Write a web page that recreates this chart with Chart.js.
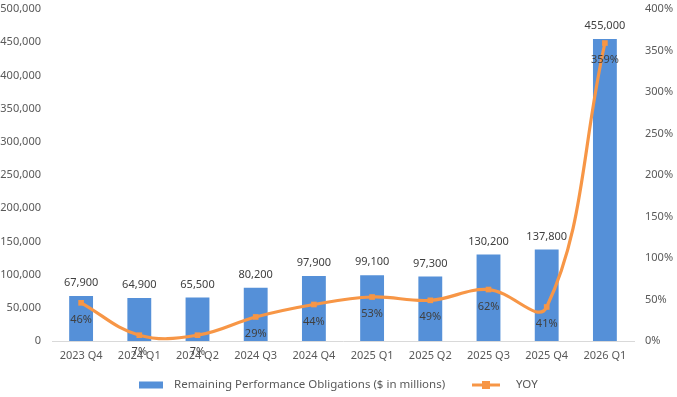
<!DOCTYPE html>
<html><head><meta charset="utf-8">
<script src="https://cdn.jsdelivr.net/npm/chart.js@4/dist/chart.umd.min.js"></script>
<style>html,body{margin:0;padding:0;background:#fff}#wrap{width:677px;height:397px}</style>
</head><body><div id="wrap"><canvas id="c" width="677" height="397"></canvas></div>
<script>
const categories = ["2023 Q4","2024 Q1","2024 Q2","2024 Q3","2024 Q4","2025 Q1","2025 Q2","2025 Q3","2025 Q4","2026 Q1"];
const rpoValues = [67900, 64900, 65500, 80200, 97900, 99100, 97300, 130200, 137800, 455000];
const yoyValues = [46, 7, 7, 29, 44, 53, 49, 62, 41, 359];
const leftTicks = {min: 0, max: 500000, step: 50000};
const rightTicks = {min: 0, max: 400, step: 50};
const seriesNames = ["Remaining Performance Obligations ($ in millions)", "YOY"];

const FONT = "'Noto Sans', 'Open Sans', sans-serif";
const TXT = '#595959';
const BLUE = '#5590D8';
const ORANGE = '#F79646';

const labelPlugin = {
  id: 'labels',
  afterDatasetsDraw(chart) {
    const ctx = chart.ctx;
    ctx.save();
    ctx.font = '11px ' + FONT;
    ctx.fillStyle = '#404040';
    ctx.textAlign = 'center';
    ctx.textBaseline = 'middle';
    chart.getDatasetMeta(1).data.forEach((el, i) => {
      ctx.fillText(rpoValues[i].toLocaleString('en-US'), el.x, el.y - 13);
    });
    chart.getDatasetMeta(0).data.forEach((el, i) => {
      ctx.fillText(yoyValues[i] + '%', el.x, el.y + 17);
    });
    ctx.restore();
  },
  afterDraw(chart) {
    const ctx = chart.ctx;
    ctx.save();
    const y = 385;
    ctx.fillStyle = BLUE;
    ctx.fillRect(139, y - 3.5, 24, 7);
    ctx.font = '11.5px ' + FONT;
    ctx.fillStyle = TXT;
    ctx.textBaseline = 'middle';
    ctx.textAlign = 'left';
    ctx.fillText(seriesNames[0], 174, y);
    ctx.strokeStyle = ORANGE;
    ctx.lineWidth = 3;
    ctx.beginPath(); ctx.moveTo(472, y); ctx.lineTo(500, y); ctx.stroke();
    ctx.fillStyle = ORANGE;
    ctx.fillRect(482, y - 4, 8, 8);
    ctx.fillStyle = TXT;
    ctx.fillText(seriesNames[1], 516, y);
    ctx.restore();
  }
};

function zeroPad(s) { s.paddingTop = 0; s.paddingBottom = 0; s.paddingLeft = 0; s.paddingRight = 0; }

new Chart(document.getElementById('c'), {
  data: {
    labels: categories,
    datasets: [
      {type: 'line', label: seriesNames[1], data: yoyValues, yAxisID: 'y1',
       borderColor: ORANGE, backgroundColor: ORANGE, borderWidth: 3.2,
       pointStyle: 'rect', pointRadius: 4, pointBackgroundColor: ORANGE, pointBorderWidth: 0,
       tension: 0.4, order: 0},
      {type: 'bar', label: seriesNames[0], data: rpoValues, yAxisID: 'y',
       backgroundColor: BLUE, barPercentage: 0.41, categoryPercentage: 1, order: 1}
    ]
  },
  options: {
    responsive: false, animation: false,
    layout: {padding: {top: 9, bottom: 30, left: 0, right: 0}},
    plugins: {legend: {display: false}, tooltip: {enabled: false}},
    scales: {
      x: {
        grid: {display: false, drawTicks: false},
        border: {color: '#D9D9D9', width: 1},
        ticks: {color: TXT, font: {family: FONT, size: 11}, padding: 8, maxRotation: 0, autoSkip: false},
        afterFit(s) { zeroPad(s); s.height = 26; }
      },
      y: {
        position: 'left', min: leftTicks.min, max: leftTicks.max,
        grid: {display: false, drawTicks: false}, border: {display: false},
        ticks: {stepSize: leftTicks.step, color: TXT, font: {family: FONT, size: 11}, padding: 11,
                callback: v => v.toLocaleString('en-US')},
        afterFit(s) { zeroPad(s); s.width = 52; }
      },
      y1: {
        position: 'right', min: rightTicks.min, max: rightTicks.max,
        grid: {display: false, drawTicks: false}, border: {display: false},
        ticks: {stepSize: rightTicks.step, color: TXT, font: {family: FONT, size: 11}, padding: 11,
                callback: v => v + '%'},
        afterFit(s) { zeroPad(s); s.width = 43; }
      }
    }
  },
  plugins: [labelPlugin]
});
</script></body></html>
